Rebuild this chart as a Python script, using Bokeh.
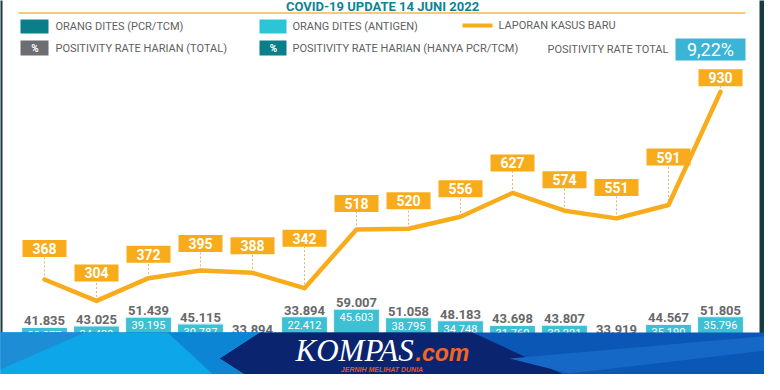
from bokeh.plotting import figure
from bokeh.models import Range1d
from bokeh.core.properties import value
from bokeh.embed import file_html
from bokeh.resources import INLINE

# ---------------- data ----------------
day_index = list(range(14))
new_cases = [368, 304, 372, 395, 388, 342, 518, 520, 556, 627, 574, 551, 591, 930]
tests_total = [41835, 43025, 51439, 45115, 33894, 52000, 59007, 51058, 48183, 43698, 43807, 33919, 44567, 51805]
tests_total_labels = ["41.835", "43.025", "51.439", "45.115", "33.894", "33.894", "59.007",
                      "51.058", "48.183", "43.698", "43.807", "33.919", "44.567", "51.805"]
tests_antigen = [29077, 24429, 39195, 30787, 21500, 22412, 45603, 38795, 34748, 31760, 32221, 21800, 35190, 35796]
positivity_total_label = "9,22%"
title_text = "COVID-19 UPDATE 14 JUNI 2022"

# label placement (style, in screen pixels above each point)
label_lift_px = [31, 28, 24, 27, 27, 50, 26, 28, 28, 30, 31, 31, 48, 14]

# ---------------- colours ----------------
ORANGE = "#F9AC1B"
TEAL = "#0A7F8A"
CYAN = "#3DC0D4"
GRAY_TXT = "#5E5F61"
NUM_GRAY = "#67686A"
DARK_BORDER = "#173B41"

# ---------------- scale helpers (page pixel -> data) ----------------
STEP = 52.0
X0 = 52.0
CASE_PX = 0.334          # pixels per case
TEST_PER_PX = 946.0      # tests per pixel


def X(px):
    return (px - X0) / STEP


def Y(py):
    return 368 + (287 - py) / CASE_PX


def T(py):
    return (379 - py) * TEST_PER_PX


FIG_W, FIG_H = 764, 374
p = figure(width=FIG_W, height=FIG_H, output_backend="svg", toolbar_location=None,
           x_range=Range1d(X(8), X(8 + FIG_W)), y_range=Range1d(Y(8 + FIG_H), Y(8)),
           x_axis_location=None, y_axis_location=None, min_border=0,
           background_fill_color="white", border_fill_color="white")
p.extra_y_ranges = {"tests": Range1d(T(8 + FIG_H), T(8))}
p.grid.visible = False
p.outline_line_color = None

ROBOTO = value("Roboto")

# ---------------- frame decorations ----------------
p.quad(left=[X(0), X(767)], right=[X(10), X(790)], top=[Y(-10), Y(-10)], bottom=[Y(341), Y(341)],
       fill_color=DARK_BORDER, line_color=None)

# title (kept fully visible above the divider)
p.text(x=[X(390)], y=[Y(13.5)], text=[title_text], text_align="center", text_baseline="middle",
       text_font=ROBOTO, text_font_style="bold", text_font_size=value("13px"), text_color="#0B8593")
p.segment(x0=[X(26)], y0=[Y(20.5)], x1=[X(753)], y1=[Y(20.5)], line_color="#F7C978", line_width=2)

# ---------------- legend ----------------
p.quad(left=[X(28), X(267), X(28), X(267)], right=[X(56), X(294), X(56), X(294)],
       top=[Y(27), Y(27), Y(48), Y(48)], bottom=[Y(41), Y(41), Y(63), Y(63)],
       fill_color=[TEAL, "#2CC5D8", "#6D6E71", TEAL], line_color=None)
p.text(x=[X(42.5), X(281)], y=[Y(55.5), Y(55.5)], text=["%", "%"], text_align="center",
       text_baseline="middle", text_font=ROBOTO, text_font_style="bold",
       text_font_size=value("10px"), text_color="white")
p.segment(x0=[X(470)], y0=[Y(33)], x1=[X(500)], y1=[Y(33)], line_color=ORANGE, line_width=4)
p.text(x=[X(63), X(300), X(506)], y=[Y(33.8), Y(33.8), Y(33.3)],
       text=["ORANG DITES (PCR/TCM)", "ORANG DITES (ANTIGEN)", "LAPORAN KASUS BARU"],
       text_baseline="middle", text_font=ROBOTO, text_font_size=value("11px"), text_color=GRAY_TXT)
p.text(x=[X(63), X(300), X(555)], y=[Y(55.7), Y(55.7), Y(57.3)],
       text=["POSITIVITY RATE HARIAN (TOTAL)", "POSITIVITY RATE HARIAN (HANYA PCR/TCM)",
             "POSITIVITY RATE TOTAL"],
       text_baseline="middle", text_font=ROBOTO, text_font_size=value("11px"), text_color=GRAY_TXT)
p.quad(left=[X(683)], right=[X(753)], top=[Y(46)], bottom=[Y(68)], fill_color="#3BB4D6", line_color=None)
p.text(x=[X(718)], y=[Y(56.5)], text=[positivity_total_label], text_align="center",
       text_baseline="middle", text_font=ROBOTO, text_font_size=value("18px"), text_color="white")

# ---------------- bars: tests (stacked PCR + antigen) ----------------
tests_pcr = [t - a for t, a in zip(tests_total, tests_antigen)]
BAR_W = 46 / STEP
p.vbar(x=day_index, bottom=0, top=tests_pcr, width=BAR_W, y_range_name="tests",
       fill_color=TEAL, line_color="white", line_width=1)
p.vbar(x=day_index, bottom=tests_pcr, top=tests_total, width=BAR_W, y_range_name="tests",
       fill_color=CYAN, line_color="#E8F8FA", line_width=1.2)
p.text(x=day_index, y=[t + 6.5 * TEST_PER_PX for t in tests_total], text=tests_total_labels,
       y_range_name="tests", text_align="center", text_baseline="middle",
       text_font=ROBOTO, text_font_style="bold", text_font_size=value("13px"), text_color=NUM_GRAY)
antigen_labels = [f"{a:,}".replace(",", ".") for a in tests_antigen]
p.text(x=day_index, y=[t - 8 * TEST_PER_PX for t in tests_total], text=antigen_labels,
       y_range_name="tests", text_align="center", text_baseline="middle",
       text_font=ROBOTO, text_font_size=value("11px"), text_color="white")

# ---------------- line: new cases ----------------
label_y = [c + lift / CASE_PX for c, lift in zip(new_cases, label_lift_px)]
p.segment(x0=day_index, y0=new_cases, x1=day_index, y1=[ly - 8.5 / CASE_PX for ly in label_y],
          line_color="#DDB872", line_width=1, line_dash="2 2")
p.line(x=day_index, y=new_cases, line_color=ORANGE, line_width=4.5, line_join="round", line_cap="round")
p.rect(x=day_index, y=label_y, width=44, height=17, width_units="screen", height_units="screen",
       fill_color=ORANGE, line_color=None)
p.text(x=day_index, y=label_y, text=[str(c) for c in new_cases],
       text_align="center", text_baseline="middle", text_font=ROBOTO, text_font_style="bold",
       text_font_size=value("14px"), text_color="white")

# ---------------- bottom banner ----------------
def poly(pts):
    return [X(a) for a, b in pts], [Y(b) for a, b in pts]


shapes = [
    ([(-10, 340), (790, 340), (790, 400), (-10, 400)], "#0B57B6"),
    ([(227, 366), (267, 340), (480, 340), (610, 400), (280, 400)], "#0A2470"),
    ([(517, 366), (790, 342), (790, 356), (577, 381)], "#1668C6"),
    ([(-10, 340), (267, 340), (227, 366), (280, 400), (-10, 400)], "#0DA6E8"),
    ([(-10, 340), (92, 340), (-10, 385)], "#1D8ED6"),
    ([(175, 340), (267, 340), (227, 366), (280, 400), (240, 400)], "#0C86D4"),
]
for pts, col in shapes:
    xs, ys = poly(pts)
    p.patch(x=xs, y=ys, fill_color=col, line_color=None)

p.text(x=[X(303)], y=[Y(357.5)], text=["KOMPAS"], text_baseline="middle",
       text_font=value("Liberation Serif"), text_font_style="italic", text_font_size=value("31px"),
       text_color="white")
p.text(x=[X(423)], y=[Y(360)], text=[".com"], text_baseline="middle",
       text_font=value("Liberation Sans"), text_font_style="bold italic", text_font_size=value("23px"),
       text_color="#F26522")
p.text(x=[X(389.5)], y=[Y(376.5)], text=["JERNIH MELIHAT DUNIA"], text_align="center",
       text_baseline="middle", text_font=value("Liberation Sans"), text_font_style="bold italic",
       text_font_size=value("7px"), text_color="#E2581F")

open("out.html", "w").write(file_html(p, INLINE))
